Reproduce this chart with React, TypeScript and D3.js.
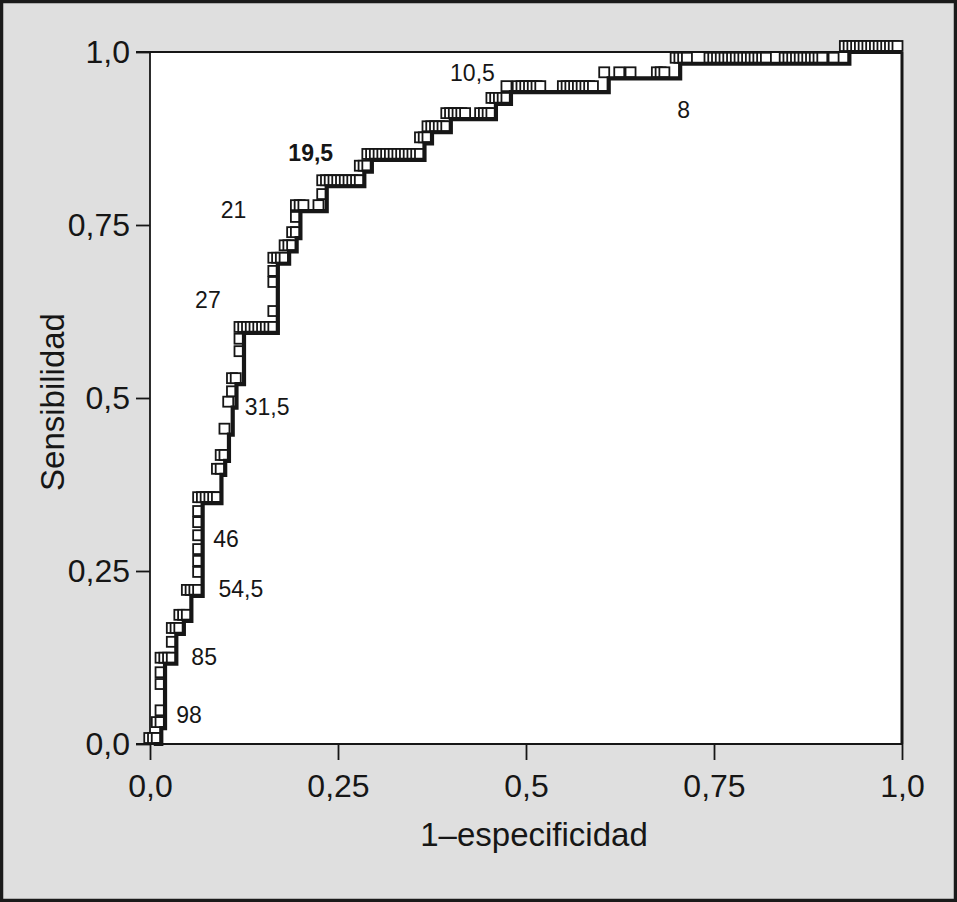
import React, { useEffect, useRef } from 'react';
import * as d3 from 'd3';

const xTickValues = [0, 0.25, 0.5, 0.75, 1];
const xTickLabels = ['0,0', '0,25', '0,5', '0,75', '1,0'];
const yTickValues = [0, 0.25, 0.5, 0.75, 1];
const yTickLabels = ['0,0', '0,25', '0,5', '0,75', '1,0'];
const xTitle = '1–especificidad';
const yTitle = 'Sensibilidad';

// each row: sensitivity, then the 1-specificity of every point at that sensitivity
const rocSteps: [number, number[]][] = [
  [0.0, [0.005, 0.01, 0.015]],
  [0.023, [0.015, 0.02]],
  [0.04, [0.02]],
  [0.078, [0.02]],
  [0.095, [0.02]],
  [0.116, [0.02, 0.025, 0.03, 0.035]],
  [0.139, [0.035]],
  [0.159, [0.035, 0.04, 0.045]],
  [0.178, [0.045, 0.05, 0.055]],
  [0.214, [0.055, 0.06, 0.065, 0.07]],
  [0.24, [0.07]],
  [0.256, [0.07]],
  [0.273, [0.07]],
  [0.293, [0.07]],
  [0.312, [0.07]],
  [0.328, [0.07]],
  [0.348, [0.07, 0.075, 0.08, 0.085, 0.09, 0.095]],
  [0.389, [0.095, 0.1]],
  [0.409, [0.1, 0.105]],
  [0.447, [0.105]],
  [0.486, [0.11]],
  [0.501, [0.115]],
  [0.52, [0.115, 0.12]],
  [0.559, [0.125]],
  [0.577, [0.125]],
  [0.594, [0.125, 0.13, 0.135, 0.14, 0.145, 0.15, 0.155, 0.16, 0.165, 0.17]],
  [0.617, [0.17]],
  [0.659, [0.17]],
  [0.675, [0.17]],
  [0.694, [0.17, 0.175, 0.18, 0.185]],
  [0.712, [0.185, 0.19, 0.195]],
  [0.731, [0.195, 0.2]],
  [0.753, [0.2]],
  [0.77, [0.2, 0.205, 0.21, 0.23]],
  [0.786, [0.235]],
  [0.806, [0.235, 0.24, 0.245, 0.25, 0.255, 0.26, 0.265, 0.27, 0.275, 0.28, 0.285]],
  [0.827, [0.285, 0.29, 0.295]],
  [0.844, [0.295, 0.3, 0.305, 0.31, 0.315, 0.32, 0.325, 0.33, 0.335, 0.34, 0.345, 0.35, 0.355, 0.36, 0.365]],
  [0.868, [0.365, 0.37, 0.375]],
  [0.884, [0.375, 0.38, 0.385, 0.39, 0.395, 0.4]],
  [0.903, [0.4, 0.405, 0.41, 0.415, 0.42, 0.425, 0.445, 0.45, 0.455, 0.46]],
  [0.925, [0.46, 0.465, 0.47, 0.475, 0.48]],
  [0.942, [0.48, 0.495, 0.5, 0.505, 0.51, 0.515, 0.52, 0.525, 0.555, 0.56, 0.565, 0.57, 0.575, 0.58, 0.585, 0.59, 0.595]],
  [0.962, [0.61, 0.63, 0.645, 0.68, 0.685, 0.69]],
  [0.983, [0.705, 0.71, 0.715, 0.72, 0.75, 0.755, 0.76, 0.765, 0.77, 0.775, 0.78, 0.785, 0.79, 0.795, 0.8, 0.805, 0.81, 0.815, 0.82, 0.825,
    0.85, 0.855, 0.86, 0.865, 0.87, 0.875, 0.88, 0.885, 0.89, 0.895, 0.9, 0.915]],
  [1.0, [0.93, 0.935, 0.94, 0.945, 0.95, 0.955, 0.96, 0.965, 0.97, 0.975, 0.98, 0.985, 0.99, 0.995, 1.0]],
];

// cut-off points written next to the curve
const cutoffLabels = ['98', '85', '54,5', '46', '31,5', '27', '21', '19,5', '10,5', '8'];
const cutoffFpr = [0.035, 0.055, 0.091, 0.084, 0.126, 0.06, 0.094, 0.184, 0.399, 0.701];
const cutoffTpr = [0.03, 0.114, 0.213, 0.284, 0.475, 0.63, 0.76, 0.842, 0.958, 0.905];
const cutoffBold = ['19,5'];

type RocPoint = { fpr: number; tpr: number };

export default function App() {
  const ref = useRef<SVGSVGElement>(null);
  const width = 957;
  const height = 902;
  const margin = { top: 52, right: 55, bottom: 158, left: 150 };
  const font = '"Liberation Sans", Arial, Helvetica, sans-serif';
  const ink = '#161616';

  useEffect(() => {
    const svg = d3.select(ref.current);
    svg.selectAll('*').remove();

    const x = d3.scaleLinear().domain([0, 1]).range([margin.left, width - margin.right]);
    const y = d3.scaleLinear().domain([0, 1]).range([height - margin.bottom, margin.top]);

    // grey card with dark border
    svg.append('rect')
      .attr('x', 1.5).attr('y', 1.5)
      .attr('width', width - 3).attr('height', height - 3)
      .attr('fill', '#dfdfdf')
      .attr('stroke', '#1a1a1a')
      .attr('stroke-width', 3.5);

    // white plot area
    svg.append('rect')
      .attr('x', x(0)).attr('y', y(1))
      .attr('width', x(1) - x(0)).attr('height', y(0) - y(1))
      .attr('fill', '#fff');

    // frame lines
    const frame = svg.append('g').attr('stroke', ink).attr('fill', 'none');
    frame.append('line').attr('x1', x(0) - 14).attr('x2', x(1)).attr('y1', y(1)).attr('y2', y(1)).attr('stroke-width', 1.8);
    frame.append('line').attr('x1', x(0) - 14).attr('x2', x(1) + 1).attr('y1', y(0)).attr('y2', y(0)).attr('stroke-width', 1.8);
    frame.append('line').attr('x1', x(0)).attr('x2', x(0)).attr('y1', y(1)).attr('y2', y(0)).attr('stroke-width', 1.8);
    frame.append('line').attr('x1', x(1)).attr('x2', x(1)).attr('y1', y(1)).attr('y2', y(0)).attr('stroke-width', 3);

    /**
     * axes
     */
    const yAxis = svg.append('g')
      .attr('transform', `translate(${x(0)},0)`)
      .call(d3.axisLeft(y).tickValues(yTickValues).tickFormat((d, i) => yTickLabels[i]).tickSize(14).tickPadding(6));
    const xAxis = svg.append('g')
      .attr('transform', `translate(0,${y(0)})`)
      .call(d3.axisBottom(x).tickValues(xTickValues).tickFormat((d, i) => xTickLabels[i]).tickSize(16).tickPadding(14));

    [yAxis, xAxis].forEach(g => {
      g.select('.domain').remove();
      g.selectAll('line').attr('stroke', ink).attr('stroke-width', 1.8);
      g.selectAll('text')
        .attr('fill', ink)
        .style('font-family', font)
        .style('font-size', '32px');
    });

    /**
     * axis titles
     */
    svg.append('text')
      .attr('x', 534).attr('y', 846)
      .attr('text-anchor', 'middle')
      .attr('fill', ink)
      .style('font-family', font).style('font-size', '33px')
      .text(xTitle);
    svg.append('text')
      .attr('transform', `translate(64,${(y(0) + y(1)) / 2 + 4}) rotate(-90)`)
      .attr('text-anchor', 'middle')
      .attr('fill', ink)
      .style('font-family', font).style('font-size', '33px')
      .text(yTitle);

    /**
     * ROC points and stepped curve
     */
    const points: RocPoint[] = rocSteps.flatMap(([tpr, fprs]) => fprs.map(fpr => ({ fpr, tpr })));

    svg.append('g')
      .selectAll('rect')
      .data(points)
      .enter()
      .append('rect')
      .attr('x', d => x(d.fpr) - 4.5 - 5)
      .attr('y', d => y(d.tpr) - 6 - 5)
      .attr('width', 10)
      .attr('height', 10)
      .attr('fill', '#fff')
      .attr('stroke', ink)
      .attr('stroke-width', 1.8);

    const line = d3.line<RocPoint>()
      .x(d => x(d.fpr))
      .y(d => y(d.tpr))
      .curve(d3.curveStepAfter);

    svg.append('path')
      .datum(points)
      .attr('d', line)
      .attr('fill', 'none')
      .attr('stroke', ink)
      .attr('stroke-width', 4.2)
      .attr('stroke-linejoin', 'miter');

    /**
     * cut-off labels
     */
    svg.append('g')
      .selectAll('text')
      .data(cutoffLabels)
      .enter()
      .append('text')
      .attr('x', (d, i) => x(cutoffFpr[i]))
      .attr('y', (d, i) => y(cutoffTpr[i]))
      .attr('fill', ink)
      .style('font-family', font)
      .style('font-size', '23px')
      .style('font-weight', d => (cutoffBold.includes(d) ? 'bold' : 'normal'))
      .text(d => d);
  }, []);

  return (
    <svg
      ref={ref}
      width={width}
      height={height}
      style={{ position: 'absolute', left: 0, top: 0, display: 'block' }}
    />
  );
}
